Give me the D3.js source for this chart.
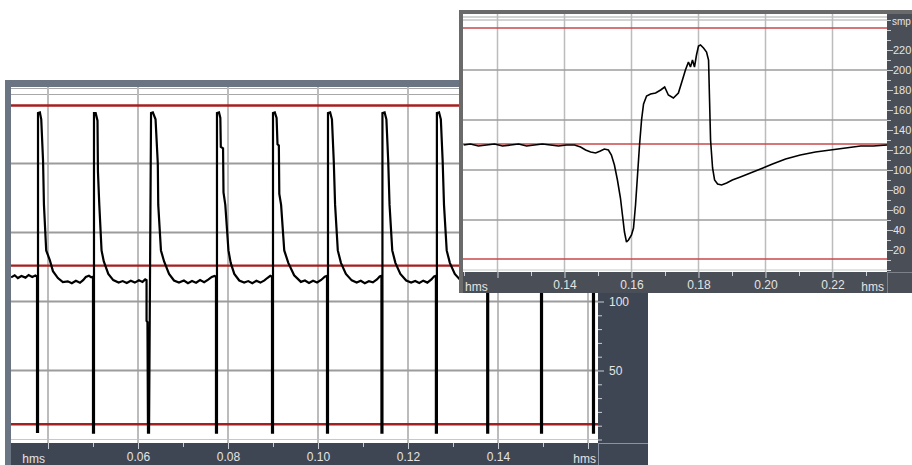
<!DOCTYPE html>
<html>
<head>
<meta charset="utf-8">
<script src="https://cdn.jsdelivr.net/npm/d3@7"></script>
<style>
  html, body { margin: 0; padding: 0; background: #ffffff; overflow: hidden; }
  svg { display: block; }
</style>
</head>
<body>
<svg id="chart" width="912" height="465"></svg>
<script>
// ---- Data ---------------------------------------------------------------
// Time in milliseconds, amplitude in sample units (smp).
const timeUnit = "hms";
const valueUnit = "smp";

// Horizontal level cursors (red) and grid levels shared by both views
const levelCursors = [11, 126, 242];
const gridLevels = [50, 100, 150, 200];

// Overview (long record) axis ticks
const overviewTickTimes = [40, 50, 60, 70, 80, 90, 100, 110, 120, 130, 140, 150, 160];
const overviewGridTimes = [40, 60, 80, 100, 120, 140, 160];
const overviewLabelTimes = [60, 80, 100, 120, 140];
const overviewLabelText = ["0.06", "0.08", "0.10", "0.12", "0.14"];
const overviewValueTicks = [0, 10, 20, 30, 40, 50, 60, 70, 80, 90, 100];
const overviewValueLabels = [50, 100];
const overviewValueText = ["50", "100"];

// Detail (single complex) axis ticks
const detailTickTimes = [110, 120, 130, 140, 150, 160, 170, 180, 190, 200, 210, 220, 230];
const detailGridTimes = [120, 140, 160, 180, 200, 220];
const detailLabelTimes = [140, 160, 180, 200, 220];
const detailLabelText = ["0.14", "0.16", "0.18", "0.20", "0.22"];
const detailValueTicks = [0, 10, 20, 30, 40, 50, 60, 70, 80, 90, 100, 110, 120, 130, 140, 150, 160, 170, 180, 190, 200, 210, 220, 230, 240, 250];
const detailValueLabels = [20, 40, 60, 80, 100, 120, 140, 160, 180, 200, 220];

// Overview trace: [time ms, value]
const overviewTrace = [
  [31.8,117.5],[32.6,119],[33.3,117],[34.1,118.5],[35.0,117.3],[35.7,119.2],[36.5,117.8],[37.2,118.8],[37.56,118],
  [37.56,5.5],[37.78,5.5],[37.78,236.5],[38.2,237],[38.5,232],[38.9,202],[39.1,170],[39.6,137],[40.4,130],[41.1,122],[42.2,117],[43.3,114],
  [44.4,114.6],[45.3,113.2],[46.2,115],[47.1,113.6],[47.8,115.5],[48.4,117.8],[49.1,118.6],[49.6,117.6],[50.0,118],
  [50.0,5],[50.22,5],[50.22,236.5],[50.6,236.5],[51.0,231],[51.1,194],[51.4,170],[51.9,137],[52.4,129],[53.4,120],[54.5,115.5],[55.7,113.8],
  [56.6,114.8],[57.5,113.4],[58.4,115],[59.3,113.7],[60.2,115.4],[61.0,114.2],[61.6,116],[61.9,115.5],
  [61.9,86],[62.1,85],[62.22,5],[62.45,5],[62.9,236.5],[63.3,237],[63.9,232],[64.4,200],[64.5,170],[65.1,137],[65.8,129],[66.9,120],[68.0,115.2],[69.1,113.8],
  [70.2,115.2],[71.1,113.3],[72.0,114.8],[72.9,113.6],[73.8,115.5],[74.7,114],[75.6,115.8],[76.4,117.8],[77.0,118.5],[77.33,118],
  [77.33,5],[77.55,5],[77.55,236.6],[78.0,237],[78.3,233],[78.4,212],[78.9,211],[79.0,179],[79.4,170],[80.1,137],[80.6,128],[81.4,120],[82.5,115.2],[83.6,113.8],
  [84.5,114.8],[85.4,113.2],[86.3,115],[87.2,113.7],[88.1,115.3],[88.8,117.2],[89.4,118.6],[89.78,118],
  [89.78,5],[90.0,5],[90.0,236.6],[90.4,237],[90.8,233],[91.0,214],[91.3,213],[91.4,178],[91.8,170],[92.5,137],[93.4,128],[94.7,119],[96.2,114.2],
  [97.1,115.2],[98.0,113.4],[98.9,115],[99.8,113.8],[100.7,115.6],[101.5,118],[102.0,118.6],
  [102.0,5],[102.22,5],[102.22,236.5],[102.7,237],[103.1,232],[103.5,202],[103.8,170],[104.4,137],[105.1,128],[106.2,120],[107.5,115.3],[108.6,113.8],
  [109.5,115],[110.4,113.3],[111.3,114.7],[112.2,113.9],[113.1,116],[113.7,118.1],[114.1,118.6],
  [114.1,5],[114.32,5],[114.32,236.5],[114.8,237],[115.2,232],[115.6,202],[115.9,170],[116.5,137],[117.2,128],[118.3,120],[119.6,115.2],[120.7,113.8],
  [121.6,114.9],[122.5,113.4],[123.4,115.1],[124.3,113.7],[125.2,116],[125.8,118.2],[126.2,118.6],
  [126.2,5],[126.42,5],[126.42,236.5],[126.9,237],[127.3,232],[127.7,202],[128.0,170],[128.6,137],[129.3,128],[130.4,120],[131.7,115.3],[132.8,113.8],
  [133.7,115],[134.6,113.3],[135.5,115],[136.4,113.7],[137.0,116.1],[137.4,118],[137.6,118.6],
  [137.6,5],[137.82,5],[137.82,236.5],[138.3,237],[138.7,232],[139.1,202],[139.4,170],[140.0,137],[140.7,128],[141.8,120],[143.1,115.2],[144.2,113.8],
  [145.1,115],[146.0,113.4],[146.9,115],[147.8,113.8],[148.7,116.1],[149.2,118],[149.56,118.6],
  [149.56,5],[149.78,5],[149.78,236.5],[150.3,237],[150.7,232],[151.1,202],[151.4,170],[152.0,137],[152.7,128],[153.8,120],[155.1,115.3],[156.2,113.8],
  [157.1,115],[158.0,113.5],[158.9,115],[159.8,114],[160.6,116.8],[161.11,118.4],
  [161.11,5],[161.33,5],[161.33,236.5],[161.8,237],[162.2,232],[162.6,202]
];

// Detail trace: [time ms, value]
const detailTrace = [
  [109.9,125],[111.9,126],[114.3,124],[116.7,125],[119.1,126],[121.5,124],[123.9,125],[126.3,126],[128.7,124],
  [131.0,125],[133.4,126],[135.8,125],[138.2,124],[140.6,125],[143.0,125],[144.8,123],[146.3,120],[147.8,118],
  [149.3,117],[150.7,119],[151.9,121],[153.1,120],[154.0,115],[154.9,105],[155.8,90],[156.7,72],[157.3,55],
  [157.9,38],[158.5,28],[159.1,30],[160.0,35],[160.6,42],[161.2,65],[161.8,95],[162.4,125],[163.0,150],
  [163.6,166],[164.5,174],[165.7,176],[167.2,177],[168.7,180],[169.9,183],[171.0,175],[172.5,172],[174.0,177],
  [175.2,190],[176.1,200],[177.0,208],[177.6,203],[178.2,210],[178.8,203],[179.4,215],[180.0,224],[180.6,225],
  [181.5,222],[182.4,218],[183.0,210],[183.3,170],[183.6,130],[184.2,102],[184.8,90],[185.7,86],[186.9,85],
  [188.4,87],[190.1,90],[192.5,93],[195.5,97],[198.5,101],[202.1,106],[206.0,111],[210.4,115],[214.9,118],
  [219.4,120],[223.9,122],[228.4,124],[232.2,124],[236.4,125]
];

// ---- Drawing ------------------------------------------------------------
const FONT = "'Liberation Sans', Arial, sans-serif";
const svg = d3.select("#chart");
const defs = svg.append("defs");

function styleAxis(sel, size) {
  sel.attr("font-family", FONT).attr("font-size", size);
  sel.select(".domain").remove();
  sel.selectAll(".tick line").attr("stroke", "#c9cdd4").attr("stroke-width", 1);
  sel.selectAll(".tick text").attr("fill", "#e4e4e4");
}

function drawView(opt) {
  const g = svg.append("g");
  const p = opt.plot;
  const x = d3.scaleLinear().domain(opt.xDomain).range(opt.xRange);
  const y = d3.scaleLinear().domain([0, 250]).range(opt.yRange);
  const fr = opt.frame;

  // window frame
  g.append("rect").attr("x", fr.x).attr("y", fr.y).attr("width", fr.w).attr("height", fr.h)
    .attr("fill", opt.frameColor);
  // axis bands (right and bottom)
  g.append("rect").attr("x", p.x).attr("y", p.y).attr("width", fr.x + fr.w - p.x)
    .attr("height", fr.y + fr.h - p.y).attr("fill", opt.bandColor);
  // data area
  g.append("rect").attr("x", p.x).attr("y", p.y).attr("width", p.r - p.x).attr("height", p.b - p.y)
    .attr("fill", "#ffffff");
  // band separators at the corner cell
  g.append("line").attr("x1", p.r + 0.5).attr("x2", p.r + 0.5).attr("y1", p.b)
    .attr("y2", fr.y + fr.h).attr("stroke", opt.sepColor).attr("stroke-width", 1);
  g.append("line").attr("x1", p.r).attr("x2", fr.x + fr.w).attr("y1", p.b + 0.5)
    .attr("y2", p.b + 0.5).attr("stroke", opt.sepColor).attr("stroke-width", 1);

  defs.append("clipPath").attr("id", opt.id + "-clip").append("rect")
    .attr("x", p.x).attr("y", p.y).attr("width", p.r - p.x).attr("height", p.b - p.y);
  const inner = g.append("g").attr("clip-path", `url(#${opt.id}-clip)`);

  // top edge rules and zero rule
  inner.append("line").attr("x1", p.x).attr("x2", p.r).attr("y1", p.y + opt.edgeRule).attr("y2", p.y + opt.edgeRule)
    .attr("stroke", "#a8a8a8").attr("stroke-width", 1.2);
  inner.append("line").attr("x1", p.x).attr("x2", p.r).attr("y1", y(250)).attr("y2", y(250))
    .attr("stroke", "#a8a8a8").attr("stroke-width", 1.2);
  inner.append("line").attr("x1", p.x).attr("x2", p.r).attr("y1", y(0)).attr("y2", y(0))
    .attr("stroke", "#c8c8c8").attr("stroke-width", 1.2);

  // grid
  inner.selectAll(".vg").data(opt.gridTimes).join("line")
    .attr("x1", d => x(d)).attr("x2", d => x(d)).attr("y1", p.y).attr("y2", p.b)
    .attr("stroke", "#bcbcbc").attr("stroke-width", opt.gridWidth);
  inner.selectAll(".hg").data(gridLevels).join("line")
    .attr("x1", p.x).attr("x2", p.r).attr("y1", d => y(d)).attr("y2", d => y(d))
    .attr("stroke", "#9c9c9c").attr("stroke-width", opt.gridWidth);

  // level cursors
  inner.selectAll(".lc").data(levelCursors).join("line")
    .attr("x1", p.x).attr("x2", p.r).attr("y1", d => y(d)).attr("y2", d => y(d))
    .attr("stroke", opt.cursorColor).attr("stroke-width", opt.cursorWidth);

  // trace
  const line = d3.line().x(d => x(d[0])).y(d => y(d[1]));
  inner.append("path").datum(opt.trace).attr("d", line)
    .attr("fill", "none").attr("stroke", "#000000").attr("stroke-width", opt.traceWidth)
    .attr("stroke-linejoin", "miter").attr("stroke-miterlimit", 2);

  // bottom time axis
  const labelOf = (vals, texts) => d => { const i = vals.indexOf(d); return i >= 0 ? texts[i] : ""; };
  const xAxis = d3.axisBottom(x).tickValues(opt.tickTimes)
    .tickSize(4).tickPadding(opt.xPad)
    .tickFormat(labelOf(opt.labelTimes, opt.labelText));
  const ax = g.append("g").attr("transform", `translate(0,${p.b})`).call(xAxis);
  styleAxis(ax, opt.fontSize);
  ax.selectAll(".tick").filter(d => opt.gridTimes.includes(d)).select("line").attr("y2", 6);

  // time unit labels
  g.append("text").attr("x", opt.unitLeftX).attr("y", opt.unitY).attr("text-anchor", opt.unitLeftAnchor)
    .attr("font-family", FONT).attr("font-size", opt.fontSize).attr("fill", "#e4e4e4").text(timeUnit);
  g.append("text").attr("x", opt.unitRightX).attr("y", opt.unitY).attr("text-anchor", "end")
    .attr("font-family", FONT).attr("font-size", opt.fontSize).attr("fill", "#e4e4e4").text(timeUnit);

  // right value axis
  const yAxis = d3.axisRight(y).tickValues(opt.valueTicks).tickSize(4).tickPadding(opt.yPad)
    .tickFormat(labelOf(opt.valueLabels, opt.valueText));
  const ay = g.append("g").attr("transform", `translate(${p.r},0)`).call(yAxis);
  styleAxis(ay, opt.yFontSize);
  ay.selectAll(".tick").filter(d => opt.valueLabels.includes(d)).select("line").attr("x2", 6);

  return { x, y, g };
}

// Overview window (behind)
drawView({
  id: "overview",
  frame: { x: 5, y: 80, w: 643, h: 400 },
  plot: { x: 11, y: 87, r: 598, b: 443 },
  frameColor: "#6b7483", bandColor: "#3f4653", sepColor: "#8a93a3",
  xDomain: [40, 160], xRange: [48, 588], yRange: [439.5, 94.5],
  gridTimes: overviewGridTimes, tickTimes: overviewTickTimes,
  labelTimes: overviewLabelTimes, labelText: overviewLabelText,
  valueTicks: overviewValueTicks, valueLabels: overviewValueLabels, valueText: overviewValueText,
  trace: overviewTrace, traceWidth: 2.2, gridWidth: 2, edgeRule: 1.5,
  cursorColor: "#a41f1f", cursorWidth: 2.4,
  fontSize: 12, yFontSize: 12, xPad: 5, yPad: 7,
  unitLeftX: 45, unitLeftAnchor: "end", unitRightX: 596, unitY: 463
});

// Detail window (in front)
const detail = drawView({
  id: "detail",
  frame: { x: 459, y: 10, w: 453, h: 283 },
  plot: { x: 463, y: 14, r: 887, b: 272 },
  frameColor: "#6a6a6a", bandColor: "#4a4e56", sepColor: "#7c8088",
  xDomain: [120, 220], xRange: [497.5, 832.5], yRange: [270, 20],
  gridTimes: detailGridTimes, tickTimes: detailTickTimes,
  labelTimes: detailLabelTimes, labelText: detailLabelText,
  valueTicks: detailValueTicks, valueLabels: detailValueLabels, valueText: detailValueLabels.map(String),
  trace: detailTrace, traceWidth: 1.6, gridWidth: 1.5, edgeRule: 3,
  cursorColor: "#c84848", cursorWidth: 1.3,
  fontSize: 12, yFontSize: 11, xPad: 4, yPad: 2,
  unitLeftX: 465, unitLeftAnchor: "start", unitRightX: 884, unitY: 291
});

// value unit label at the top of the detail value axis
detail.g.append("text").attr("x", 892).attr("y", 25)
  .attr("font-family", FONT).attr("font-size", 10).attr("fill", "#e4e4e4").text(valueUnit);
</script>
</body>
</html>
